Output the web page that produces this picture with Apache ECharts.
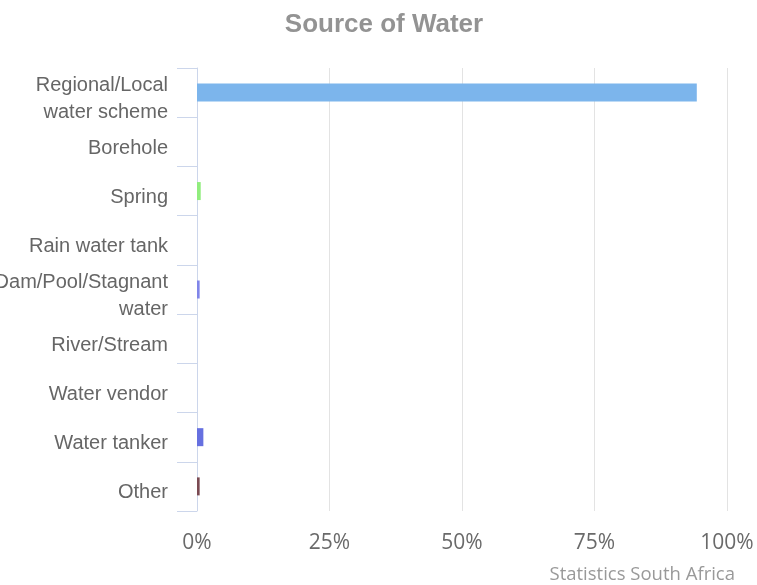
<!DOCTYPE html>
<html>
<head>
<meta charset="utf-8">
<script src="https://cdn.jsdelivr.net/npm/echarts@6/dist/echarts.min.js"></script>
<style>
  html, body { margin: 0; padding: 0; background: #ffffff; }
  #chart { width: 757px; height: 585px; }
</style>
</head>
<body>
<div id="chart"></div>
<script>
// Main source of drinking water, share of households (%)
const categories = [
  'Regional/Local\nwater scheme',
  'Borehole',
  'Spring',
  'Rain water tank',
  'Dam/Pool/Stagnant\nwater',
  'River/Stream',
  'Water vendor',
  'Water tanker',
  'Other'
];
const shares = [94.3, 0, 0.7, 0, 0.5, 0, 0, 1.2, 0.5];
const barColors = ['#7cb5ec', '#434348', '#90ed7d', '#f7a35c', '#8085e9', '#f15c80', '#e4d354', '#6670e0', '#7a4a52'];
const xTicks = [0, 25, 50, 75, 100];

const chart = echarts.init(document.getElementById('chart'), null, { renderer: 'canvas' });

// Category labels sit slightly below the band centre: a thin spacer line on top pushes them down.
function categoryLabel(value) {
  return '{s| }\n' + value.split('\n').map(line => '{t|' + line + '}').join('\n');
}

chart.setOption({
  backgroundColor: '#ffffff',
  animation: false,
  title: {
    text: 'Source of Water',
    left: 379,
    textAlign: 'center',
    top: 7,
    textStyle: {
      fontFamily: 'Liberation Sans, Arial, sans-serif',
      fontSize: 26,
      fontWeight: 'bold',
      color: '#939393'
    }
  },
  grid: { left: 197, right: 30, top: 68, bottom: 74, containLabel: false, outerBoundsMode: 'none' },
  xAxis: {
    type: 'value',
    min: xTicks[0],
    max: xTicks[xTicks.length - 1],
    interval: 25,
    axisLine: { show: false },
    axisTick: { show: false },
    splitLine: { show: true, lineStyle: { color: '#e3e3e3', width: 1 } },
    axisLabel: {
      margin: 22,
      formatter: '{value}%',
      fontFamily: 'Open Sans, sans-serif',
      fontSize: 21,
      color: '#6a6a6a'
    }
  },
  yAxis: {
    type: 'category',
    inverse: true,
    data: categories,
    boundaryGap: true,
    axisLine: { show: true, lineStyle: { color: '#ccd6eb', width: 1 } },
    axisTick: { show: true, length: 20, lineStyle: { color: '#ccd6eb', width: 1 } },
    splitLine: { show: false },
    axisLabel: {
      margin: 29,
      interval: 0,
      showMinLabel: true,
      showMaxLabel: true,
      align: 'right',
      formatter: categoryLabel,
      rich: {
        s: { fontSize: 1, lineHeight: 13 },
        t: {
          fontFamily: 'Liberation Sans, Arial, sans-serif',
          fontSize: 20,
          lineHeight: 27,
          color: '#666666'
        }
      }
    }
  },
  series: [{
    type: 'bar',
    barWidth: 18,
    data: shares.map((v, i) => ({ value: v, itemStyle: { color: barColors[i] } }))
  }],
  graphic: [{
    type: 'text',
    right: 22,
    top: 565,
    style: {
      text: 'Statistics South Africa',
      fontFamily: 'Open Sans, sans-serif',
      fontSize: 18.5,
      fill: '#999999'
    }
  }]
});
</script>
</body>
</html>
